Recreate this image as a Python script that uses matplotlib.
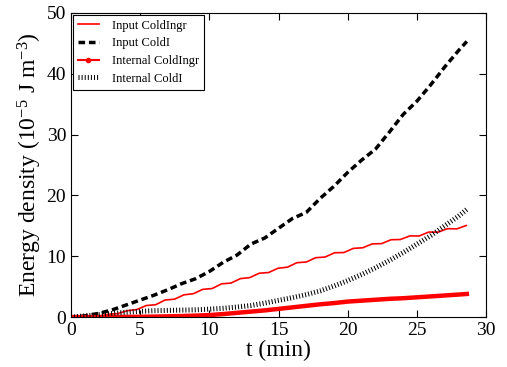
import matplotlib
matplotlib.use("Agg")
import matplotlib.pyplot as plt
import numpy as np

plt.rcParams["font.family"] = ["Liberation Serif", "DejaVu Serif"]
plt.rcParams["mathtext.fontset"] = "custom"
plt.rcParams["mathtext.rm"] = "Liberation Serif"
plt.rcParams["mathtext.it"] = "Liberation Serif:italic"

# time grids (min)
t_coarse = [0, 1, 2, 3, 4, 5, 6, 7, 8, 9, 10, 11, 12, 13, 14, 15, 16, 17, 18, 19,
            20, 21, 22, 23, 24, 25, 26, 27, 28, 28.6]
t_fine = [0.00, 0.68, 1.36, 2.04, 2.72, 3.40, 4.08, 4.76, 5.44, 6.12, 6.80, 7.48,
          8.16, 8.84, 9.52, 10.20, 10.88, 11.56, 12.24, 12.92, 13.60, 14.28, 14.96,
          15.64, 16.32, 17.00, 17.68, 18.36, 19.04, 19.72, 20.40, 21.08, 21.76, 22.44,
          23.12, 23.80, 24.48, 25.16, 25.84, 26.52, 27.20, 27.88, 28.56]

# energy densities (1e-5 J m^-3)
input_coldingr = [0, 0.03, 0.12, 0.18, 0.48, 0.58, 1.05, 1.24, 1.90, 2.03, 2.81, 2.94,
                  3.66, 3.84, 4.56, 4.69, 5.47, 5.59, 6.32, 6.49, 7.21, 7.32, 8.03,
                  8.20, 8.94, 9.05, 9.76, 9.87, 10.57, 10.61, 11.29, 11.39, 12.03,
                  12.07, 12.71, 12.75, 13.34, 13.33, 13.97, 13.96, 14.53, 14.50, 15.05]
input_coldi = [0, 0.2, 0.6, 1.2, 2.0, 2.8, 3.6, 4.5, 5.5, 6.3, 7.5, 9.0, 10.2, 12.0,
               13.0, 14.6, 16.2, 17.2, 19.5, 21.5, 23.8, 25.8, 27.6, 30.4, 33.3, 35.5,
               38.2, 41.1, 43.8, 45.3]
internal_coldingr = [0, 0, 0, 0.02, 0.03, 0.05, 0.08, 0.12, 0.17, 0.24, 0.33, 0.5, 0.7,
                     0.9, 1.1, 1.35, 1.6, 1.85, 2.1, 2.3, 2.55, 2.7, 2.85, 3.0, 3.1,
                     3.25, 3.4, 3.55, 3.7, 3.8]
internal_coldi = [0, 0.2, 0.4, 0.6, 0.8, 0.95, 1.05, 1.1, 1.15, 1.2, 1.3, 1.45, 1.65,
                  1.9, 2.3, 2.75, 3.2, 3.7, 4.3, 5.1, 6.0, 7.0, 8.1, 9.3, 10.6, 12.0,
                  13.4, 15.0, 16.6, 17.7]

fig = plt.figure(figsize=(5.07, 3.67), dpi=100)
ax = fig.add_axes([0.140, 0.136, 0.819, 0.829])

h1, = ax.plot(t_fine, input_coldingr, color="red", lw=1.2, label="Input ColdIngr")
h2, = ax.plot(t_coarse, input_coldi, color="black", lw=2.5,
              linestyle=(0, (1.9, 1.1)), label="Input ColdI")
ax.plot(t_coarse, internal_coldingr, color="red", lw=3.2)
h3, = ax.plot([], [], color="red", lw=1.5, marker=".", ms=6, label="Internal ColdIngr")
h4, = ax.plot(t_coarse, internal_coldi, color="black", lw=3.6,
              linestyle=(0, (0.2, 0.42)), label="Internal ColdI")

ax.set_xlim(0, 30)
ax.set_ylim(0, 50)
ax.set_xticks([0, 5, 10, 15, 20, 25, 30])
ax.set_yticks([0, 10, 20, 30, 40, 50])
ax.tick_params(direction="in", top=True, right=True, length=5, labelsize=14)
ax.set_xlabel("t (min)", fontsize=17, labelpad=1)
ax.set_ylabel(r"Energy density (10$^{-5}$ J m$^{-3}$)", fontsize=17, labelpad=2)

leg = ax.legend(handles=[h1, h2, h3, h4], loc="upper left", fontsize=9,
                fancybox=False, edgecolor="black", framealpha=1,
                borderaxespad=0.15, handlelength=1.7, handletextpad=1.0,
                labelspacing=0.45)
leg.get_frame().set_linewidth(0.8)

fig.savefig("out.png", dpi=100)
